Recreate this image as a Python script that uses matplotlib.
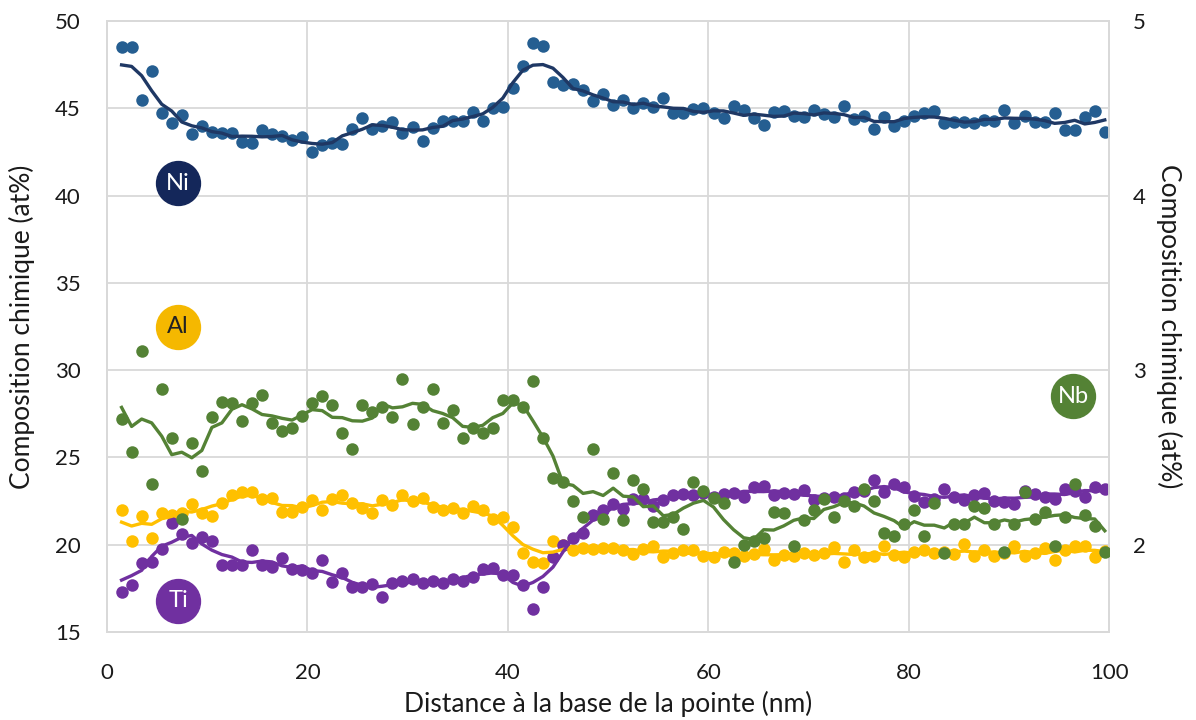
import matplotlib
matplotlib.use("Agg")
import matplotlib.pyplot as plt
import numpy as np
import pandas as pd

plt.rcParams['font.family'] = ['Lato', 'DejaVu Sans']

# distance grid (nm), one sample per ~1 nm
distance = np.linspace(1.45, 99.55, 99)

ni = [48.49, 48.49, 45.48, 47.14, 44.75, 44.18, 44.62, 43.53, 44.0, 43.66,
      43.57, 43.57, 43.09, 43.04, 43.76, 43.53, 43.41, 43.18, 43.34, 42.51,
      42.9, 43.0, 42.97, 43.8, 44.45, 43.8, 43.99, 44.23, 43.6, 43.95,
      43.13, 43.85, 44.29, 44.29, 44.29, 44.77, 44.29, 45.0, 45.06, 46.15,
      47.42, 48.72, 48.57, 46.49, 46.33, 46.38, 46.05, 45.42, 45.8, 45.19,
      45.48, 45.0, 45.32, 45.09, 45.57, 44.71, 44.71, 44.94, 45.03, 44.71,
      44.46, 45.15, 44.9, 44.43, 44.04, 44.81, 44.85, 44.56, 44.52, 44.9,
      44.65, 44.48, 45.13, 44.37, 44.56, 43.81, 44.52, 43.99, 44.29, 44.56,
      44.71, 44.86, 44.14, 44.23, 44.2, 44.14, 44.33, 44.27, 44.9, 44.18,
      44.56, 44.23, 44.23, 44.71, 43.76, 43.76, 44.48, 44.86, 43.66]

al = [21.99, 20.24, 21.65, 20.41, 21.84, 21.7, 21.84, 22.34, 21.84, 21.65,
      22.41, 22.83, 23.04, 23.04, 22.6, 22.66, 21.9, 21.9, 22.18, 22.56,
      21.99, 22.6, 22.85, 22.37, 22.09, 21.84, 22.56, 22.28, 22.85, 22.53,
      22.66, 22.18, 21.99, 22.09, 21.8, 22.22, 21.99, 21.46, 21.57, 21.0,
      19.51, 19.03, 18.94, 20.24, 19.99, 19.7, 19.8, 19.75, 19.8, 19.8,
      19.7, 19.47, 19.74, 19.93, 19.27, 19.55, 19.7, 19.68, 19.34, 19.27,
      19.6, 19.5, 19.36, 19.47, 19.74, 19.15, 19.41, 19.34, 19.51, 19.41,
      19.51, 19.86, 19.03, 19.7, 19.27, 19.36, 19.9, 19.41, 19.27, 19.6,
      19.7, 19.51, 19.6, 19.47, 20.05, 19.36, 19.7, 19.34, 19.55, 19.9,
      19.36, 19.51, 19.8, 19.15, 19.7, 19.9, 19.9, 19.27, 19.65]

ti = [17.28, 17.7, 18.94, 19.0, 19.74, 21.27, 20.62, 20.09, 20.43, 20.24,
      18.84, 18.84, 18.84, 19.7, 18.84, 18.71, 19.23, 18.6, 18.56, 18.4,
      19.13, 17.89, 18.37, 17.6, 17.6, 17.76, 17.03, 17.8, 17.94, 18.02,
      17.83, 17.94, 17.83, 18.02, 17.94, 18.14, 18.6, 18.65, 18.27, 18.27,
      17.7, 16.3, 17.6, 19.32, 19.99, 20.37, 20.66, 21.71, 22.0, 22.34,
      22.03, 22.6, 22.6, 22.22, 22.56, 22.85, 22.9, 22.85, 22.98, 22.72,
      22.9, 22.98, 22.72, 23.33, 23.37, 22.85, 22.94, 22.9, 23.14, 22.56,
      22.66, 22.72, 22.66, 23.04, 23.1, 23.71, 23.04, 23.48, 23.33, 22.79,
      22.47, 22.6, 23.2, 22.75, 22.56, 22.85, 22.94, 22.52, 22.47, 22.34,
      23.1, 22.9, 22.75, 22.6, 23.18, 23.1, 22.75, 23.29, 23.2]

# Nb is read on the right-hand axis
nb = [2.72, 2.53, 3.11, 2.35, 2.89, 2.61, 2.15, 2.58, 2.42, 2.73,
      2.82, 2.81, 2.71, 2.81, 2.86, 2.70, 2.65, 2.67, 2.74, 2.81,
      2.85, 2.80, 2.64, 2.55, 2.80, 2.76, 2.79, 2.73, 2.95, 2.69,
      2.79, 2.89, 2.70, 2.77, 2.61, 2.67, 2.64, 2.67, 2.83, 2.83,
      2.79, 2.94, 2.61, 2.38, 2.36, 2.25, 2.16, 2.55, 2.15, 2.41,
      2.14, 2.37, 2.32, 2.13, 2.13, 2.16, 2.09, 2.36, 2.31, 2.27,
      2.24, 1.90, 2.00, 2.02, 2.04, 2.19, 2.18, 1.99, 2.14, 2.20,
      2.26, 2.16, 2.25, 2.22, 2.32, 2.25, 2.07, 2.05, 2.12, 2.20,
      2.05, 2.24, 1.95, 2.12, 2.12, 2.22, 2.21, 2.12, 1.96, 2.12,
      2.30, 2.15, 2.19, 1.99, 2.16, 2.35, 2.17, 2.11, 1.96]

elements = ["Ni", "Al", "Ti", "Nb"]
label_x = [7.1, 7.1, 7.1, 96.4]
label_y = [40.7, 32.5, 16.8, 28.5]   # in left-axis units
point_colors = ["#255E91", "#FFC000", "#7030A0", "#548235"]
line_colors = ["#1F3864", "#FFC000", "#7030A0", "#548235"]
badge_colors = ["#14275A", "#F5B800", "#7030A0", "#548235"]
badge_text = ["white", "#222222", "white", "white"]


def smooth(vals):
    # centred moving average, 5 points
    return pd.Series(vals).rolling(5, center=True, min_periods=1).mean().values


fig = plt.figure(figsize=(11.96, 7.2), dpi=100)
ax = fig.add_axes([0.0895, 0.1222, 0.838, 0.8486])
ax2 = ax.twinx()

grid_c = "#D9D9D9"
for i, vals in enumerate([ni, al, ti]):
    ax.plot(distance, vals, 'o', ms=9, color=point_colors[i], mec='none', zorder=3)
    ax.plot(distance, smooth(vals), '-', lw=2.4, color=line_colors[i], zorder=4)
ax2.plot(distance, nb, 'o', ms=9, color=point_colors[3], mec='none', zorder=3)
ax2.plot(distance, smooth(nb), '-', lw=2.4, color=line_colors[3], zorder=4)

ax.set_xlim(0, 100)
ax.set_ylim(15, 50)
ax2.set_ylim(1.5, 5)
ax.set_xticks(np.arange(0, 101, 20))
ax.set_yticks(np.arange(15, 51, 5))
ax2.set_yticks([2, 3, 4, 5])
ax.grid(True, color=grid_c, lw=1.3, zorder=0)
ax.set_axisbelow(True)
for a in (ax, ax2):
    for s in a.spines.values():
        s.set_color(grid_c)
        s.set_linewidth(1.3)
ax.tick_params(axis='both', length=0, labelsize=16, labelcolor="#1A1A1A")
ax.tick_params(axis='y', pad=19)
ax.tick_params(axis='x', pad=22)
ax2.tick_params(axis='y', length=0, labelsize=16, labelcolor="#1A1A1A", pad=17)

ax.set_xlabel("Distance à la base de la pointe (nm)", fontsize=19, color="#1A1A1A", labelpad=6)
ax.set_ylabel("Composition chimique (at%)", fontsize=19, color="#1A1A1A", labelpad=14)
ax2.set_ylabel("Composition chimique (at%)", fontsize=19, color="#1A1A1A",
               rotation=270, labelpad=26)

# element badges
for i, el in enumerate(elements):
    ax.scatter(label_x[i], label_y[i], s=1000, color=badge_colors[i], zorder=6, clip_on=False)
    ax.text(label_x[i], label_y[i], el, ha='center', va='center', fontsize=17,
            color=badge_text[i], zorder=7)

fig.savefig("out.png", dpi=100)
